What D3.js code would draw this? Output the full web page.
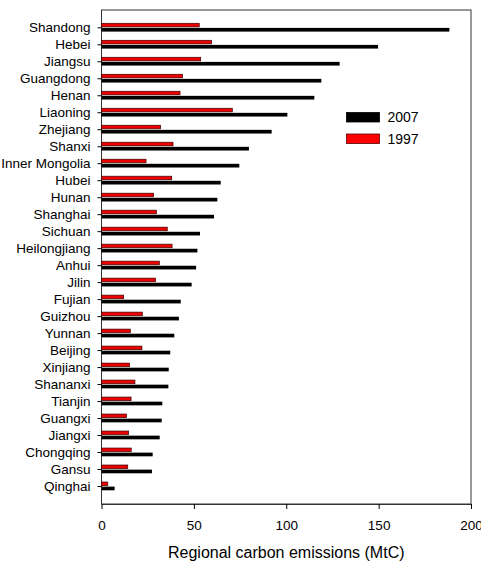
<!DOCTYPE html>
<html>
<head>
<meta charset="utf-8">
<script src="https://cdn.jsdelivr.net/npm/d3@7"></script>
<style>
  body { margin: 0; background: #fff; }
  text { font-family: "Liberation Sans", Arial, sans-serif; fill: #000; }
</style>
</head>
<body>
<svg id="chart" width="481" height="568"></svg>
<script>
var provinces = ['Shandong', 'Hebei', 'Jiangsu', 'Guangdong', 'Henan', 'Liaoning', 'Zhejiang',
  'Shanxi', 'Inner Mongolia', 'Hubei', 'Hunan', 'Shanghai', 'Sichuan', 'Heilongjiang', 'Anhui',
  'Jilin', 'Fujian', 'Guizhou', 'Yunnan', 'Beijing', 'Xinjiang', 'Shananxi', 'Tianjin', 'Guangxi',
  'Jiangxi', 'Chongqing', 'Gansu', 'Qinghai'];

var em2007 = [188.3, 149.7, 128.9, 119.0, 115.2, 100.6, 92.1, 79.8, 74.6, 64.5, 62.7, 60.9, 53.3,
  51.9, 51.2, 48.8, 42.9, 41.9, 39.4, 37.2, 36.4, 36.2, 32.9, 32.6, 31.5, 27.7, 27.3, 7.1];

var em1997 = [52.9, 59.6, 53.7, 43.9, 42.5, 70.8, 32.0, 38.7, 24.1, 38.0, 28.2, 29.7, 35.6,
  38.2, 31.3, 29.3, 12.0, 22.1, 15.6, 21.9, 15.2, 18.1, 16.0, 13.6, 14.7, 16.1, 14.2, 3.4];

var xTicks = [0, 50, 100, 150, 200];
var years = ['2007', '1997'];

var svg = d3.select('#chart');
// plot box (don't call it "top": that's window.top)
var pLeft = 101.5, pRight = 471, pTop = 10, pBottom = 504;

var x = d3.scaleLinear().domain([0, 200]).range([pLeft, pRight]);
var y = d3.scalePoint().domain(provinces).range([27.3, 486]);

// frame
svg.append('rect')
  .attr('x', pLeft).attr('y', pTop)
  .attr('width', pRight - pLeft).attr('height', pBottom - pTop)
  .attr('fill', 'none').attr('stroke', '#333').attr('stroke-width', 1);

var rows = provinces.map(function (p, i) {
  return { name: p, v07: em2007[i], v97: em1997[i] };
});

// 2007 bars (below the tick)
svg.append('g').selectAll('rect')
  .data(rows).enter().append('rect')
  .attr('x', x(0))
  .attr('y', function (d) { return y(d.name) + 0.6; })
  .attr('width', function (d) { return x(d.v07) - x(0); })
  .attr('height', 3.7)
  .attr('fill', '#000');

// 1997 bars (above the tick)
svg.append('g').selectAll('rect')
  .data(rows).enter().append('rect')
  .attr('x', x(0))
  .attr('y', function (d) { return y(d.name) - 4; })
  .attr('width', function (d) { return x(d.v97) - x(0); })
  .attr('height', 3.6)
  .attr('fill', '#ee0000')
  .attr('stroke', '#3a0000')
  .attr('stroke-width', 0.7);

// axes
var xAxis = svg.append('g')
  .attr('transform', 'translate(0,' + pBottom + ')')
  .call(d3.axisBottom(x).tickValues(xTicks).tickSize(5).tickPadding(11).tickSizeOuter(0));
xAxis.select('.domain').attr('stroke', '#333');
xAxis.selectAll('text').style('font-size', '13.5px').attr('font-family', null);

var yAxis = svg.append('g')
  .attr('transform', 'translate(' + pLeft + ',0)')
  .call(d3.axisLeft(y).tickSize(4).tickPadding(7).tickSizeOuter(0));
yAxis.select('.domain').remove();
yAxis.selectAll('text').style('font-size', '13.5px').attr('font-family', null);

svg.append('text')
  .attr('x', (pLeft + pRight) / 2).attr('y', 558)
  .attr('text-anchor', 'middle')
  .style('font-size', '16px')
  .text('Regional carbon emissions (MtC)');

// legend
var legend = svg.append('g').selectAll('g')
  .data(years).enter().append('g')
  .attr('transform', function (d, i) { return 'translate(346.5,' + (112.5 + i * 21.5) + ')'; });
legend.append('rect')
  .attr('width', 33).attr('height', 9.5)
  .attr('fill', function (d) { return d === '2007' ? '#000' : '#ff0000'; })
  .attr('stroke', function (d) { return d === '2007' ? '#000' : '#5a0000'; })
  .attr('stroke-width', 0.8);
legend.append('text')
  .attr('x', 41).attr('y', 5).attr('dy', '0.35em')
  .style('font-size', '14px')
  .text(function (d) { return d; });
</script>
</body>
</html>
